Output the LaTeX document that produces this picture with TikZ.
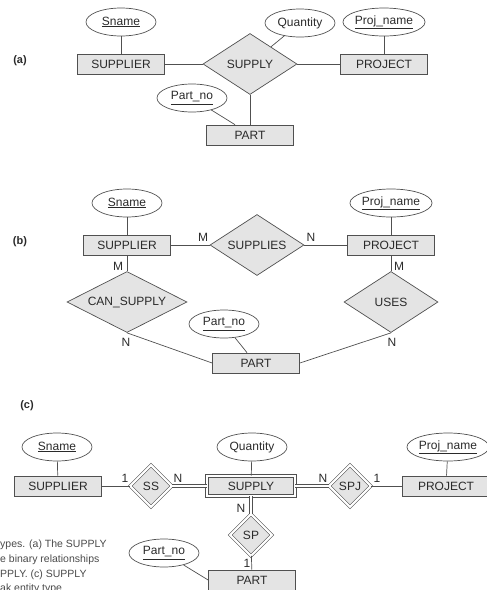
\documentclass[tikz,border=0pt]{standalone}
\usepackage{fontspec}
\setmainfont{Liberation Sans}
\usetikzlibrary{shapes.geometric}

\definecolor{erline}{HTML}{505050}
\definecolor{erfill}{HTML}{E4E4E4}
\definecolor{ertext}{HTML}{2A2A2A}

\tikzset{
  entity/.style={draw=erline, fill=erfill, line width=0.7pt, minimum width=87pt,
    minimum height=20pt, inner sep=0pt, font=\fontsize{12}{14}\selectfont, text=ertext},
  weakentity/.style={entity, double=white, double distance=2pt, line width=0.6pt,
    minimum width=88pt, minimum height=20pt},
  rel/.style={diamond, aspect=1.55, draw=erline, fill=erfill, line width=0.7pt, inner sep=0pt,
    minimum width=94pt, minimum height=61pt, font=\fontsize{12}{14}\selectfont, text=ertext},
  weakrel/.style={rel, aspect=1, double=white, double distance=2pt, line width=0.6pt,
    minimum width=42pt, minimum height=42pt},
  attr/.style={ellipse, draw=erline, line width=0.7pt, inner sep=0pt, minimum width=70pt,
    minimum height=28pt, font=\fontsize{12}{14}\selectfont, text=ertext},
  card/.style={inner sep=0pt, font=\fontsize{12}{14}\selectfont, text=ertext},
  link/.style={draw=erline, line width=0.7pt},
  idlink/.style={draw=erline, line width=0.6pt, double=white, double distance=2pt},
  partlabel/.style={inner sep=0pt, font=\bfseries\fontsize{11}{13}\selectfont, text=ertext},
  caption/.style={anchor=base west, inner sep=0pt, font=\fontsize{10.5}{12}\selectfont, text=ertext!85}
}

\begin{document}
\begin{tikzpicture}[x=1pt, y=-1pt]
\useasboundingbox (0,0) rectangle (487,590);
\clip (0,0) rectangle (487,590);

% (a) the ternary relationship
\node[partlabel] (lblA) at (20,61) {(a)};
\node[attr] (snA) at (121,22) {\underline{Sname}};
\node[attr] (qtyA) at (300,23) {Quantity};
\node[attr] (pnameA) at (384,22) {\underline{Proj\_name}};
\node[entity] (supA) at (121,64) {SUPPLIER};
\node[rel] (supplyA) at (250,64) {SUPPLY};
\node[entity] (projA) at (384,64) {PROJECT};
\node[attr] (pnoA) at (192,98) {\underline{Part\_no}};
\node[entity] (partA) at (250,135) {PART};
\draw[link] (snA) -- (supA);
\draw[link] (pnameA) -- (projA);
\draw[link] (qtyA) -- (supplyA);
\draw[link] (supA) -- (supplyA);
\draw[link] (supplyA) -- (projA);
\draw[link] (supplyA) -- (partA);
\draw[link] (pnoA) -- ([xshift=-15pt]partA.north);

% (b) three binary relationships
\node[partlabel] (lblB) at (20,242) {(b)};
\node[attr] (snB) at (127,203) {\underline{Sname}};
\node[attr] (pnameB) at (391,203) {\underline{Proj\_name}};
\node[entity] (supB) at (127,245) {SUPPLIER};
\node[rel] (suppliesB) at (257,245) {SUPPLIES};
\node[entity] (projB) at (391,245) {PROJECT};
\node[rel, aspect=2, minimum width=120pt] (cansupB) at (127,302) {CAN\_SUPPLY};
\node[rel] (usesB) at (391,302) {USES};
\node[attr] (pnoB) at (224,324) {\underline{Part\_no}};
\node[entity] (partB) at (256,363) {PART};
\draw[link] (snB) -- (supB);
\draw[link] (pnameB) -- (projB);
\draw[link] (supB) -- (suppliesB);
\draw[link] (suppliesB) -- (projB);
\draw[link] (supB) -- (cansupB);
\draw[link] (projB) -- (usesB);
\draw[link] (cansupB.south) -- (partB.west);
\draw[link] (usesB.south) -- (partB.east);
\draw[link] (pnoB) -- ([xshift=-9pt]partB.north);
\node[card] (mSupplies) at (203,237) {M};
\node[card] (nSupplies) at (311,237) {N};
\node[card] (mCan) at (118,266) {M};
\node[card] (nCan) at (126,342) {N};
\node[card] (mUses) at (399,266) {M};
\node[card] (nUses) at (392,342) {N};

% (c) SUPPLY as a weak entity type
\node[partlabel] (lblC) at (27,406) {(c)};
\node[attr] (snC) at (57,447) {\underline{Sname}};
\node[attr] (qtyC) at (252,447) {Quantity};
\node[attr] (pnameC) at (448,447) {\underline{Proj\_name}};
\node[entity] (supC) at (58,486) {SUPPLIER};
\node[weakrel] (ssC) at (151,486) {SS};
\node[weakentity] (supplyC) at (251,486) {SUPPLY};
\node[weakrel] (spjC) at (350,486) {SPJ};
\node[entity] (projC) at (446,486) {PROJECT};
\node[weakrel] (spC) at (251,535) {SP};
\node[attr] (pnoC) at (164,553) {\underline{Part\_no}};
\node[entity] (partC) at (252,580) {PART};
\draw[link] (snC) -- (supC);
\draw[link] (qtyC) -- (supplyC);
\draw[link] (pnameC) -- (projC);
\draw[link] (supC) -- (ssC);
\draw[idlink] (ssC) -- (supplyC);
\draw[idlink] (supplyC) -- (spjC);
\draw[link] (spjC) -- (projC);
\draw[idlink] (supplyC) -- (spC);
\draw[link] (spC) -- (partC);
\draw[link] (pnoC) -- (partC.west);
\node[card] (oneSS) at (125,478) {1};
\node[card] (nSS) at (178,478) {N};
\node[card] (nSPJ) at (323,478) {N};
\node[card] (oneSPJ) at (377,478) {1};
\node[card] (nSP) at (241,508) {N};
\node[card] (oneSP) at (247,563) {1};

% caption, cut off at the left edge
\node[caption] (cap1) at (0,547) {ypes. (a) The SUPPLY};
\node[caption] (cap2) at (0,562) {e binary relationships};
\node[caption] (cap3) at (0,577) {PPLY. (c) SUPPLY};
\node[caption] (cap4) at (0,591) {ak entity type};
\end{tikzpicture}
\end{document}
